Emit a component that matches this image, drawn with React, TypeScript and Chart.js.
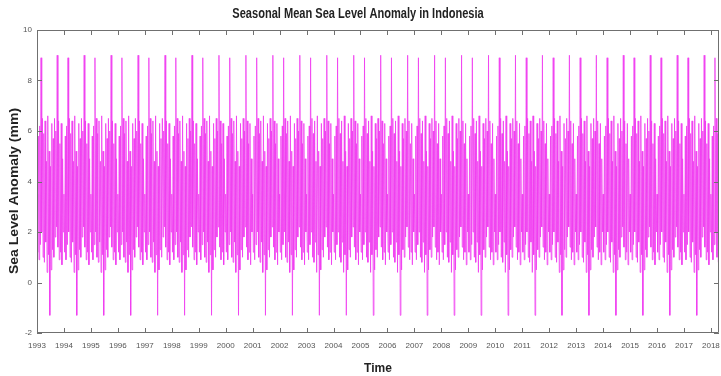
import React, { useEffect, useRef } from 'react';
import { Chart, registerables } from 'chart.js';

Chart.register(...registerables);

// Tick labels / years on the x axis
const years = [
  1993, 1994, 1995, 1996, 1997, 1998, 1999, 2000, 2001, 2002, 2003, 2004, 2005,
  2006, 2007, 2008, 2009, 2010, 2011, 2012, 2013, 2014, 2015, 2016, 2017, 2018,
];
const yTicks = [-2, 0, 2, 4, 6, 8, 10];

// One seasonal cycle (sea level anomaly, mm), 40 samples per year
const seasonalCycle = [
  3.5, 1.2, 5.8, 0.9, 6.2, 1.5, 8.9, 2.0, 6.5, 1.0,
  5.9, 0.8, 6.4, 1.6, 4.8, 0.4, 6.6, 1.1, 5.2, -1.3,
  4.6, 0.5, 6.3, 1.3, 5.7, 1.0, 6.5, 1.8, 6.0, 2.2,
  9.0, 1.4, 6.4, 0.9, 5.5, 1.2, 6.3, 0.7, 4.9, 2.0,
];
// samples of the cycle shown in the final (partial) year
const lastYearSamples = 12;

const TITLE = 'Seasonal Mean Sea Level Anomaly in Indonesia';
const X_TITLE = 'Time';
const Y_TITLE = 'Sea Level Anomaly (mm)';
const FONT = "'Liberation Sans', Arial, sans-serif";

function buildPoints() {
  const pts: { x: number; y: number }[] = [];
  const n = seasonalCycle.length;
  years.forEach((yr, yi) => {
    const count = yi === years.length - 1 ? lastYearSamples : n;
    for (let i = 0; i < count; i++) {
      pts.push({ x: yr + i / n, y: seasonalCycle[i] });
    }
  });
  return pts;
}

const framePlugin = {
  id: 'frame',
  afterDatasetsDraw(chart: any) {
    const { ctx, chartArea } = chart;
    const { left, right, top, bottom } = chartArea;
    const xs = chart.scales.x;
    const ys = chart.scales.y;
    ctx.save();
    ctx.strokeStyle = '#707070';
    ctx.lineWidth = 1;
    ctx.beginPath();
    ctx.rect(left + 0.5, top + 0.5, right - left - 1, bottom - top - 1);
    const tl = 5;
    years.forEach((v) => {
      const px = Math.round(xs.getPixelForValue(v)) + 0.5;
      ctx.moveTo(px, bottom);
      ctx.lineTo(px, bottom - tl);
      ctx.moveTo(px, top);
      ctx.lineTo(px, top + tl);
    });
    yTicks.forEach((v) => {
      const py = Math.round(ys.getPixelForValue(v)) + 0.5;
      ctx.moveTo(left, py);
      ctx.lineTo(left + tl, py);
      ctx.moveTo(right, py);
      ctx.lineTo(right - tl, py);
    });
    ctx.stroke();
    ctx.restore();
  },
  afterDraw(chart: any) {
    const { ctx } = chart;
    ctx.save();
    ctx.fillStyle = '#222';
    ctx.font = `bold 14px ${FONT}`;
    ctx.textAlign = 'center';
    ctx.textBaseline = 'middle';
    ctx.translate(358, 14);
    ctx.scale(0.79, 1);
    ctx.fillText(TITLE, 0, 0);
    ctx.restore();

    ctx.save();
    ctx.fillStyle = '#222';
    ctx.font = `bold 13px ${FONT}`;
    ctx.textAlign = 'center';
    ctx.textBaseline = 'middle';
    ctx.translate(14, 191);
    ctx.rotate(-Math.PI / 2);
    ctx.scale(1.08, 1);
    ctx.fillText(Y_TITLE, 0, 0);
    ctx.restore();
  },
};

export default function App() {
  const ref = useRef<HTMLCanvasElement | null>(null);
  useEffect(() => {
    document.body.style.margin = '0';
    const canvas = ref.current;
    if (!canvas) return;
    const chart = new Chart(canvas, {
      type: 'line',
      data: {
        datasets: [
          {
            data: buildPoints(),
            borderColor: 'rgb(240, 60, 240)',
            borderWidth: 0.8,
            pointRadius: 0,
            tension: 0,
            fill: false,
          },
        ],
      },
      options: {
        responsive: false,
        animation: false,
        parsing: false as any,
        normalized: true,
        layout: { padding: { left: 0, right: 2, top: 30, bottom: 0 } },
        plugins: {
          legend: { display: false },
          tooltip: { enabled: false },
          title: { display: false },
        },
        scales: {
          x: {
            type: 'linear',
            min: 1993,
            max: 2018.3,
            afterFit: (s: any) => {
              s.height = 43;
              s.paddingLeft = 0;
              s.paddingRight = 0;
            },
            afterBuildTicks: (s: any) => {
              s.ticks = years.map((v) => ({ value: v }));
            },
            grid: { display: false, drawTicks: false },
            border: { display: false },
            ticks: {
              autoSkip: false,
              maxRotation: 0,
              padding: 8,
              color: '#555',
              font: { family: FONT, size: 8 },
              callback: (v: any) => String(v),
            },
            title: {
              display: true,
              text: X_TITLE,
              color: '#222',
              font: { family: FONT, size: 12, weight: 'bold' },
              padding: { top: 4, bottom: 0 },
            },
          },
          y: {
            min: -2,
            max: 10,
            afterFit: (s: any) => {
              s.width = 37;
              s.paddingTop = 0;
              s.paddingBottom = 0;
            },
            afterBuildTicks: (s: any) => {
              s.ticks = yTicks.map((v) => ({ value: v }));
            },
            grid: { display: false, drawTicks: false },
            border: { display: false },
            ticks: {
              padding: 5,
              color: '#555',
              font: { family: FONT, size: 8 },
              callback: (v: any) => String(v),
            },
            title: { display: false, text: Y_TITLE },
          },
        },
      },
      plugins: [framePlugin],
    });
    return () => chart.destroy();
  }, []);
  return (
    <canvas
      ref={ref}
      width={721}
      height={376}
      style={{ display: 'block', position: 'absolute', left: 0, top: 0, width: 721, height: 376 }}
    />
  );
}
